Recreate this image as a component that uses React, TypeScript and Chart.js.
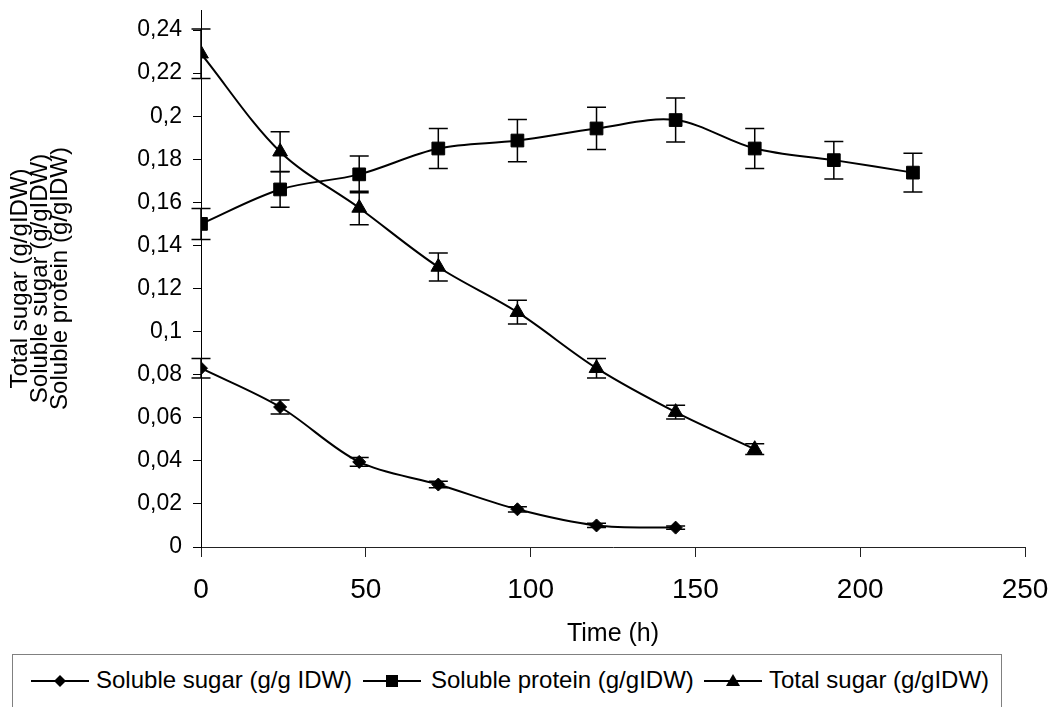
import React, { useEffect, useRef } from 'react';
import { Chart, registerables } from 'chart.js';

Chart.register(...registerables);

// ---- Data ----
const hours = [0, 24, 48, 72, 96, 120, 144, 168, 192, 216];

const solubleSugar = [0.083, 0.065, 0.0395, 0.029, 0.0175, 0.010, 0.009];
const solubleSugarErr = [0.0045, 0.0032, 0.002, 0.0015, 0.0012, 0.001, 0.0008];

const solubleProtein = [0.150, 0.166, 0.173, 0.185, 0.1887, 0.1943, 0.1982, 0.185, 0.1796, 0.1738];
const solubleProteinErr = [0.0072, 0.0083, 0.0085, 0.0093, 0.0098, 0.0098, 0.0102, 0.0093, 0.0087, 0.009];

const totalSugar = [0.229, 0.1835, 0.1574, 0.130, 0.109, 0.083, 0.0626, 0.0454];
const totalSugarErr = [0.0115, 0.0093, 0.0078, 0.0065, 0.0055, 0.0045, 0.0032, 0.0025];

const yTickValues = [0, 0.02, 0.04, 0.06, 0.08, 0.1, 0.12, 0.14, 0.16, 0.18, 0.2, 0.22, 0.24];
const xTickValues = [0, 50, 100, 150, 200, 250];

const seriesNames = ['Soluble sugar (g/g IDW)', 'Soluble protein (g/gIDW)', 'Total sugar (g/gIDW)'];
const yTitleLines = ['Total sugar (g/gIDW)', 'Soluble sugar (g/gIDW)', 'Soluble protein (g/gIDW)'];
const xTitle = 'Time (h)';

const FONT = '"Liberation Sans", Arial, sans-serif';

const toPoints = (vals: number[]) => vals.map((v, i) => ({ x: hours[i], y: v }));
const fmtComma = (v: number) => String(Number(v.toFixed(4))).replace('.', ',');

const errorBarPlugin = {
  id: 'errorBars',
  afterDatasetsDraw(chart: any) {
    const { ctx } = chart;
    const yScale = chart.scales.y;
    chart.data.datasets.forEach((ds: any, di: number) => {
      const meta = chart.getDatasetMeta(di);
      const errs: number[] = ds.errors || [];
      ctx.save();
      ctx.strokeStyle = '#000';
      ctx.lineWidth = 1.5;
      meta.data.forEach((pt: any, i: number) => {
        const e = errs[i];
        if (e == null) return;
        const v = ds.data[i].y;
        const x = pt.x;
        const yTop = yScale.getPixelForValue(v + e);
        const yBot = yScale.getPixelForValue(v - e);
        const cap = 9.5;
        ctx.beginPath();
        ctx.moveTo(x, yTop);
        ctx.lineTo(x, yBot);
        ctx.moveTo(x - cap, yTop);
        ctx.lineTo(x + cap, yTop);
        ctx.moveTo(x - cap, yBot);
        ctx.lineTo(x + cap, yBot);
        ctx.stroke();
      });
      ctx.restore();
    });
  },
};

function LegendMarker({ kind }: { kind: string }) {
  let marker: React.ReactNode = null;
  if (kind === 'diamond') marker = <polygon points="29,4 35,10 29,16 23,10" fill="#000" />;
  if (kind === 'square') marker = <rect x="23" y="4" width="12" height="12" fill="#000" />;
  if (kind === 'triangle') marker = <polygon points="29,3 36,15 22,15" fill="#000" />;
  return (
    <svg width="58" height="20" style={{ display: 'block' }}>
      <line x1="0" y1="10" x2="58" y2="10" stroke="#000" strokeWidth="2" />
      {marker}
    </svg>
  );
}

export default function App() {
  const canvasRef = useRef<HTMLCanvasElement | null>(null);

  useEffect(() => {
    if (!canvasRef.current) return;
    const common = {
      borderColor: '#000',
      backgroundColor: '#000',
      pointBackgroundColor: '#000',
      pointBorderColor: '#000',
      pointBorderWidth: 1,
      borderWidth: 2,
      tension: 0.33,
      fill: false,
    };
    const chart = new Chart(canvasRef.current, {
      type: 'line',
      data: {
        datasets: [
          { ...common, label: seriesNames[0], data: toPoints(solubleSugar), errors: solubleSugarErr, pointStyle: 'rectRot', pointRadius: 6.5 } as any,
          { ...common, label: seriesNames[1], data: toPoints(solubleProtein), errors: solubleProteinErr, pointStyle: 'rect', pointRadius: 9 } as any,
          { ...common, label: seriesNames[2], data: toPoints(totalSugar), errors: totalSugarErr, pointStyle: 'triangle', pointRadius: 8.5 } as any,
        ],
      },
      options: {
        animation: false,
        responsive: false,
        devicePixelRatio: 1,
        layout: { padding: { top: 9, right: 26, left: 0, bottom: 0 } },
        plugins: { legend: { display: false }, tooltip: { enabled: false } },
        scales: {
          x: {
            type: 'linear',
            min: 0,
            max: 250,
            afterBuildTicks: (s: any) => { s.ticks = xTickValues.map((v) => ({ value: v })); },
            afterFit: (s: any) => { s.height = 103; s.paddingLeft = 0; s.paddingRight = 0; },
            border: { display: true, color: '#222', width: 1 },
            grid: { drawOnChartArea: false, drawTicks: true, tickLength: 10, color: '#222', tickWidth: 1 },
            ticks: { color: '#000', font: { family: FONT, size: 28 }, padding: 16, maxRotation: 0, callback: (v: any) => String(v) },
            title: { display: true, text: xTitle, color: '#000', font: { family: FONT, size: 25 }, padding: { top: 0, bottom: 1 } },
          },
          y: {
            type: 'linear',
            min: 0,
            max: 0.2493,
            afterBuildTicks: (s: any) => { s.ticks = yTickValues.map((v) => ({ value: v })); },
            afterFit: (s: any) => { s.width = 201; s.paddingTop = 0; s.paddingBottom = 0; },
            border: { display: true, color: '#000', width: 1 },
            grid: { drawOnChartArea: false, drawTicks: true, tickLength: 8, color: '#000', tickWidth: 1 },
            ticks: { color: '#000', font: { family: FONT, size: 23 }, padding: 11, callback: (v: any) => fmtComma(Number(v)) },
            title: { display: true, text: yTitleLines, color: '#000', font: { family: FONT, size: 24, lineHeight: 0.84 }, padding: { top: 10, bottom: 0 } },
          },
        },
      } as any,
      plugins: [errorBarPlugin],
    });
    return () => chart.destroy();
  }, []);

  const legendItems = [
    { kind: 'diamond', name: seriesNames[0], lineX: 18, textX: 83 },
    { kind: 'square', name: seriesNames[1], lineX: 350, textX: 418 },
    { kind: 'triangle', name: seriesNames[2], lineX: 691, textX: 756 },
  ];

  return (
    <div style={{ position: 'fixed', left: 0, top: 0, width: 1051, height: 707, background: '#fff', overflow: 'hidden' }}>
      <canvas ref={canvasRef} width={1051} height={650} style={{ position: 'absolute', left: 0, top: 0, width: 1051, height: 650 }} />
      <div
        style={{
          position: 'absolute', left: 12, top: 654, width: 990, height: 70,
          border: '1px solid #808080', boxSizing: 'border-box', background: '#fff',
          fontFamily: FONT, fontSize: 24, color: '#000',
        }}
      >
        {legendItems.map((it) => (
          <React.Fragment key={it.name}>
            <div style={{ position: 'absolute', left: it.lineX, top: 16 }}>
              <LegendMarker kind={it.kind} />
            </div>
            <div style={{ position: 'absolute', left: it.textX, top: 11, whiteSpace: 'nowrap', lineHeight: '28px' }}>{it.name}</div>
          </React.Fragment>
        ))}
      </div>
    </div>
  );
}
